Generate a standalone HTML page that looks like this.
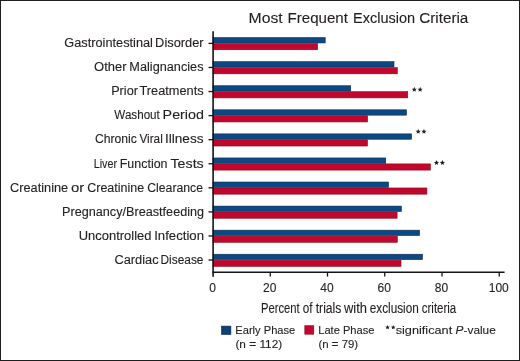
<!DOCTYPE html>
<html><head><meta charset="utf-8"><style>
html,body{margin:0;padding:0;background:#fff;}
svg{display:block;will-change:transform;}
text{font-family:"Liberation Sans",sans-serif;fill:#231f20;stroke:#231f20;stroke-width:0.12px;}
</style></head><body>
<svg width="520" height="361" viewBox="0 0 520 361">
<rect x="0" y="0" width="520" height="361" fill="#fff"/>
<rect x="0.5" y="0.5" width="519" height="360" fill="none" stroke="#1e1e1e" stroke-width="1"/>
<rect x="213.0" y="37.60" width="112.20" height="5.35" fill="#0c4982" stroke="#082a52" stroke-width="0.6"/>
<rect x="213.0" y="43.55" width="104.60" height="6.20" fill="#c3062b" stroke="#8a0a1e" stroke-width="0.6"/>
<line x1="208.5" y1="43.40" x2="213.0" y2="43.40" stroke="#141414" stroke-width="1.3"/>
<rect x="213.0" y="61.67" width="181.00" height="5.35" fill="#0c4982" stroke="#082a52" stroke-width="0.6"/>
<rect x="213.0" y="67.62" width="184.30" height="6.20" fill="#c3062b" stroke="#8a0a1e" stroke-width="0.6"/>
<line x1="208.5" y1="67.47" x2="213.0" y2="67.47" stroke="#141414" stroke-width="1.3"/>
<rect x="213.0" y="85.74" width="137.70" height="5.35" fill="#0c4982" stroke="#082a52" stroke-width="0.6"/>
<rect x="213.0" y="91.69" width="194.70" height="6.20" fill="#c3062b" stroke="#8a0a1e" stroke-width="0.6"/>
<line x1="208.5" y1="91.54" x2="213.0" y2="91.54" stroke="#141414" stroke-width="1.3"/>
<rect x="213.0" y="109.81" width="193.50" height="5.35" fill="#0c4982" stroke="#082a52" stroke-width="0.6"/>
<rect x="213.0" y="115.76" width="154.60" height="6.20" fill="#c3062b" stroke="#8a0a1e" stroke-width="0.6"/>
<line x1="208.5" y1="115.61" x2="213.0" y2="115.61" stroke="#141414" stroke-width="1.3"/>
<rect x="213.0" y="133.88" width="198.60" height="5.35" fill="#0c4982" stroke="#082a52" stroke-width="0.6"/>
<rect x="213.0" y="139.83" width="154.50" height="6.20" fill="#c3062b" stroke="#8a0a1e" stroke-width="0.6"/>
<line x1="208.5" y1="139.68" x2="213.0" y2="139.68" stroke="#141414" stroke-width="1.3"/>
<rect x="213.0" y="157.95" width="172.70" height="5.35" fill="#0c4982" stroke="#082a52" stroke-width="0.6"/>
<rect x="213.0" y="163.90" width="217.40" height="6.20" fill="#c3062b" stroke="#8a0a1e" stroke-width="0.6"/>
<line x1="208.5" y1="163.75" x2="213.0" y2="163.75" stroke="#141414" stroke-width="1.3"/>
<rect x="213.0" y="182.02" width="175.50" height="5.35" fill="#0c4982" stroke="#082a52" stroke-width="0.6"/>
<rect x="213.0" y="187.97" width="213.90" height="6.20" fill="#c3062b" stroke="#8a0a1e" stroke-width="0.6"/>
<line x1="208.5" y1="187.82" x2="213.0" y2="187.82" stroke="#141414" stroke-width="1.3"/>
<rect x="213.0" y="206.09" width="188.40" height="5.35" fill="#0c4982" stroke="#082a52" stroke-width="0.6"/>
<rect x="213.0" y="212.04" width="184.10" height="6.20" fill="#c3062b" stroke="#8a0a1e" stroke-width="0.6"/>
<line x1="208.5" y1="211.89" x2="213.0" y2="211.89" stroke="#141414" stroke-width="1.3"/>
<rect x="213.0" y="230.16" width="206.60" height="5.35" fill="#0c4982" stroke="#082a52" stroke-width="0.6"/>
<rect x="213.0" y="236.11" width="184.30" height="6.20" fill="#c3062b" stroke="#8a0a1e" stroke-width="0.6"/>
<line x1="208.5" y1="235.96" x2="213.0" y2="235.96" stroke="#141414" stroke-width="1.3"/>
<rect x="213.0" y="254.23" width="209.50" height="5.35" fill="#0c4982" stroke="#082a52" stroke-width="0.6"/>
<rect x="213.0" y="260.18" width="188.00" height="6.20" fill="#c3062b" stroke="#8a0a1e" stroke-width="0.6"/>
<line x1="208.5" y1="260.03" x2="213.0" y2="260.03" stroke="#141414" stroke-width="1.3"/>
<polygon points="414.30,86.86 415.01,88.64 416.92,88.76 415.44,89.98 415.92,91.84 414.30,90.81 412.68,91.84 413.16,89.98 411.68,88.76 413.59,88.64" fill="#231f20"/>
<polygon points="420.15,86.86 420.86,88.64 422.77,88.76 421.29,89.98 421.77,91.84 420.15,90.81 418.53,91.84 419.01,89.98 417.53,88.76 419.44,88.64" fill="#231f20"/>
<polygon points="418.20,128.86 418.91,130.64 420.82,130.76 419.34,131.98 419.82,133.84 418.20,132.81 416.58,133.84 417.06,131.98 415.58,130.76 417.49,130.64" fill="#231f20"/>
<polygon points="423.95,128.86 424.66,130.64 426.57,130.76 425.09,131.98 425.57,133.84 423.95,132.81 422.33,133.84 422.81,131.98 421.33,130.76 423.24,130.64" fill="#231f20"/>
<polygon points="436.50,160.01 437.21,161.79 439.12,161.91 437.64,163.13 438.12,164.99 436.50,163.96 434.88,164.99 435.36,163.13 433.88,161.91 435.79,161.79" fill="#231f20"/>
<polygon points="442.40,160.01 443.11,161.79 445.02,161.91 443.54,163.13 444.02,164.99 442.40,163.96 440.78,164.99 441.26,163.13 439.78,161.91 441.69,161.79" fill="#231f20"/>
<polygon points="387.55,324.93 388.18,326.51 389.88,326.63 388.58,327.72 388.99,329.37 387.55,328.46 386.11,329.37 386.52,327.72 385.22,326.63 386.92,326.51" fill="#231f20"/>
<polygon points="393.25,324.93 393.88,326.51 395.58,326.63 394.28,327.72 394.69,329.37 393.25,328.46 391.81,329.37 392.22,327.72 390.92,326.63 392.62,326.51" fill="#231f20"/>
<line x1="213.1" y1="31.2" x2="213.1" y2="276.7" stroke="#141414" stroke-width="1.6"/>
<line x1="212.3" y1="272.25" x2="504.6" y2="272.25" stroke="#141414" stroke-width="1.4"/>
<text x="212.50" y="292.2" text-anchor="middle" font-size="12">0</text>
<line x1="270.25" y1="272" x2="270.25" y2="276.6" stroke="#141414" stroke-width="1.3"/>
<text x="269.75" y="292.2" text-anchor="middle" font-size="12">20</text>
<line x1="327.50" y1="272" x2="327.50" y2="276.6" stroke="#141414" stroke-width="1.3"/>
<text x="327.00" y="292.2" text-anchor="middle" font-size="12">40</text>
<line x1="384.75" y1="272" x2="384.75" y2="276.6" stroke="#141414" stroke-width="1.3"/>
<text x="384.25" y="292.2" text-anchor="middle" font-size="12">60</text>
<line x1="442.00" y1="272" x2="442.00" y2="276.6" stroke="#141414" stroke-width="1.3"/>
<text x="441.50" y="292.2" text-anchor="middle" font-size="12">80</text>
<line x1="499.25" y1="272" x2="499.25" y2="276.6" stroke="#141414" stroke-width="1.3"/>
<text x="498.75" y="292.2" text-anchor="middle" font-size="12">100</text>
<text x="64.32" y="47.15" font-size="12.5" textLength="88.65" lengthAdjust="spacingAndGlyphs">Gastrointestinal</text>
<text x="155.14" y="47.15" font-size="12.5" textLength="48.50" lengthAdjust="spacingAndGlyphs">Disorder</text>
<text x="94.04" y="71.22" font-size="12.5" textLength="32.51" lengthAdjust="spacingAndGlyphs">Other</text>
<text x="129.38" y="71.22" font-size="12.5" textLength="74.12" lengthAdjust="spacingAndGlyphs">Malignancies</text>
<text x="111.16" y="95.29" font-size="12.5" textLength="26.81" lengthAdjust="spacingAndGlyphs">Prior</text>
<text x="139.44" y="95.29" font-size="12.5" textLength="64.19" lengthAdjust="spacingAndGlyphs">Treatments</text>
<text x="114.36" y="119.36" font-size="12.5" textLength="45.45" lengthAdjust="spacingAndGlyphs">Washout</text>
<text x="162.64" y="119.36" font-size="12.5" textLength="41.31" lengthAdjust="spacingAndGlyphs">Period</text>
<text x="94.93" y="143.43" font-size="12.5" textLength="41.98" lengthAdjust="spacingAndGlyphs">Chronic</text>
<text x="139.42" y="143.43" font-size="12.5" textLength="23.34" lengthAdjust="spacingAndGlyphs">Viral</text>
<text x="164.93" y="143.43" font-size="12.5" textLength="38.66" lengthAdjust="spacingAndGlyphs">Illness</text>
<text x="93.70" y="167.50" font-size="12.5" textLength="23.38" lengthAdjust="spacingAndGlyphs">Liver</text>
<text x="119.77" y="167.50" font-size="12.5" textLength="47.75" lengthAdjust="spacingAndGlyphs">Function</text>
<text x="170.52" y="167.50" font-size="12.5" textLength="33.20" lengthAdjust="spacingAndGlyphs">Tests</text>
<text x="10.01" y="191.57" font-size="12.5" textLength="58.19" lengthAdjust="spacingAndGlyphs">Creatinine</text>
<text x="70.94" y="191.57" font-size="12.5" textLength="13.27" lengthAdjust="spacingAndGlyphs">or</text>
<text x="87.22" y="191.57" font-size="12.5" textLength="56.86" lengthAdjust="spacingAndGlyphs">Creatinine</text>
<text x="147.21" y="191.57" font-size="12.5" textLength="55.80" lengthAdjust="spacingAndGlyphs">Clearance</text>
<text x="62.06" y="215.64" font-size="12.5" textLength="142.04" lengthAdjust="spacingAndGlyphs">Pregnancy/Breastfeeding</text>
<text x="78.78" y="239.71" font-size="12.5" textLength="72.64" lengthAdjust="spacingAndGlyphs">Uncontrolled</text>
<text x="154.16" y="239.71" font-size="12.5" textLength="49.85" lengthAdjust="spacingAndGlyphs">Infection</text>
<text x="114.41" y="263.78" font-size="12.5" textLength="44.26" lengthAdjust="spacingAndGlyphs">Cardiac</text>
<text x="160.47" y="263.78" font-size="12.5" textLength="43.03" lengthAdjust="spacingAndGlyphs">Disease</text>
<text x="248.63" y="22.75" font-size="15.4" textLength="34.12" lengthAdjust="spacingAndGlyphs">Most</text>
<text x="287.58" y="22.75" font-size="15.4" textLength="60.32" lengthAdjust="spacingAndGlyphs">Frequent</text>
<text x="353.02" y="22.75" font-size="15.4" textLength="62.09" lengthAdjust="spacingAndGlyphs">Exclusion</text>
<text x="419.17" y="22.75" font-size="15.4" textLength="49.19" lengthAdjust="spacingAndGlyphs">Criteria</text>
<text x="260.89" y="312.60" font-size="15.3" textLength="38.76" lengthAdjust="spacingAndGlyphs">Percent</text>
<text x="302.75" y="312.60" font-size="15.3" textLength="9.77" lengthAdjust="spacingAndGlyphs">of</text>
<text x="315.72" y="312.60" font-size="15.3" textLength="25.61" lengthAdjust="spacingAndGlyphs">trials</text>
<text x="343.92" y="312.60" font-size="15.3" textLength="23.06" lengthAdjust="spacingAndGlyphs">with</text>
<text x="369.69" y="312.60" font-size="15.3" textLength="49.10" lengthAdjust="spacingAndGlyphs">exclusion</text>
<text x="421.75" y="312.60" font-size="15.3" textLength="34.50" lengthAdjust="spacingAndGlyphs">criteria</text>
<text x="235.29" y="333.80" font-size="11" textLength="60.00" lengthAdjust="spacingAndGlyphs">Early Phase</text>
<text x="235.45" y="347.70" font-size="11.4" textLength="46.74" lengthAdjust="spacingAndGlyphs">(n = 112)</text>
<text x="318.20" y="333.80" font-size="11" textLength="56.33" lengthAdjust="spacingAndGlyphs">Late Phase</text>
<text x="318.54" y="347.70" font-size="11.4" textLength="39.60" lengthAdjust="spacingAndGlyphs">(n = 79)</text>
<text x="395.68" y="333.50" font-size="11.4" textLength="56.51" lengthAdjust="spacingAndGlyphs">significant</text>
<rect x="221.5" y="326.1" width="9.4" height="8.4" fill="#0c4178" stroke="#082a52" stroke-width="0.6"/>
<rect x="304.8" y="325.7" width="9.0" height="8.5" fill="#c3062b" stroke="#8a0a1e" stroke-width="0.6"/>
<text x="455.6" y="333.5" font-size="11.4" textLength="40.2" lengthAdjust="spacingAndGlyphs"><tspan font-style="italic">P</tspan>-value</text>
</svg>
</body></html>
